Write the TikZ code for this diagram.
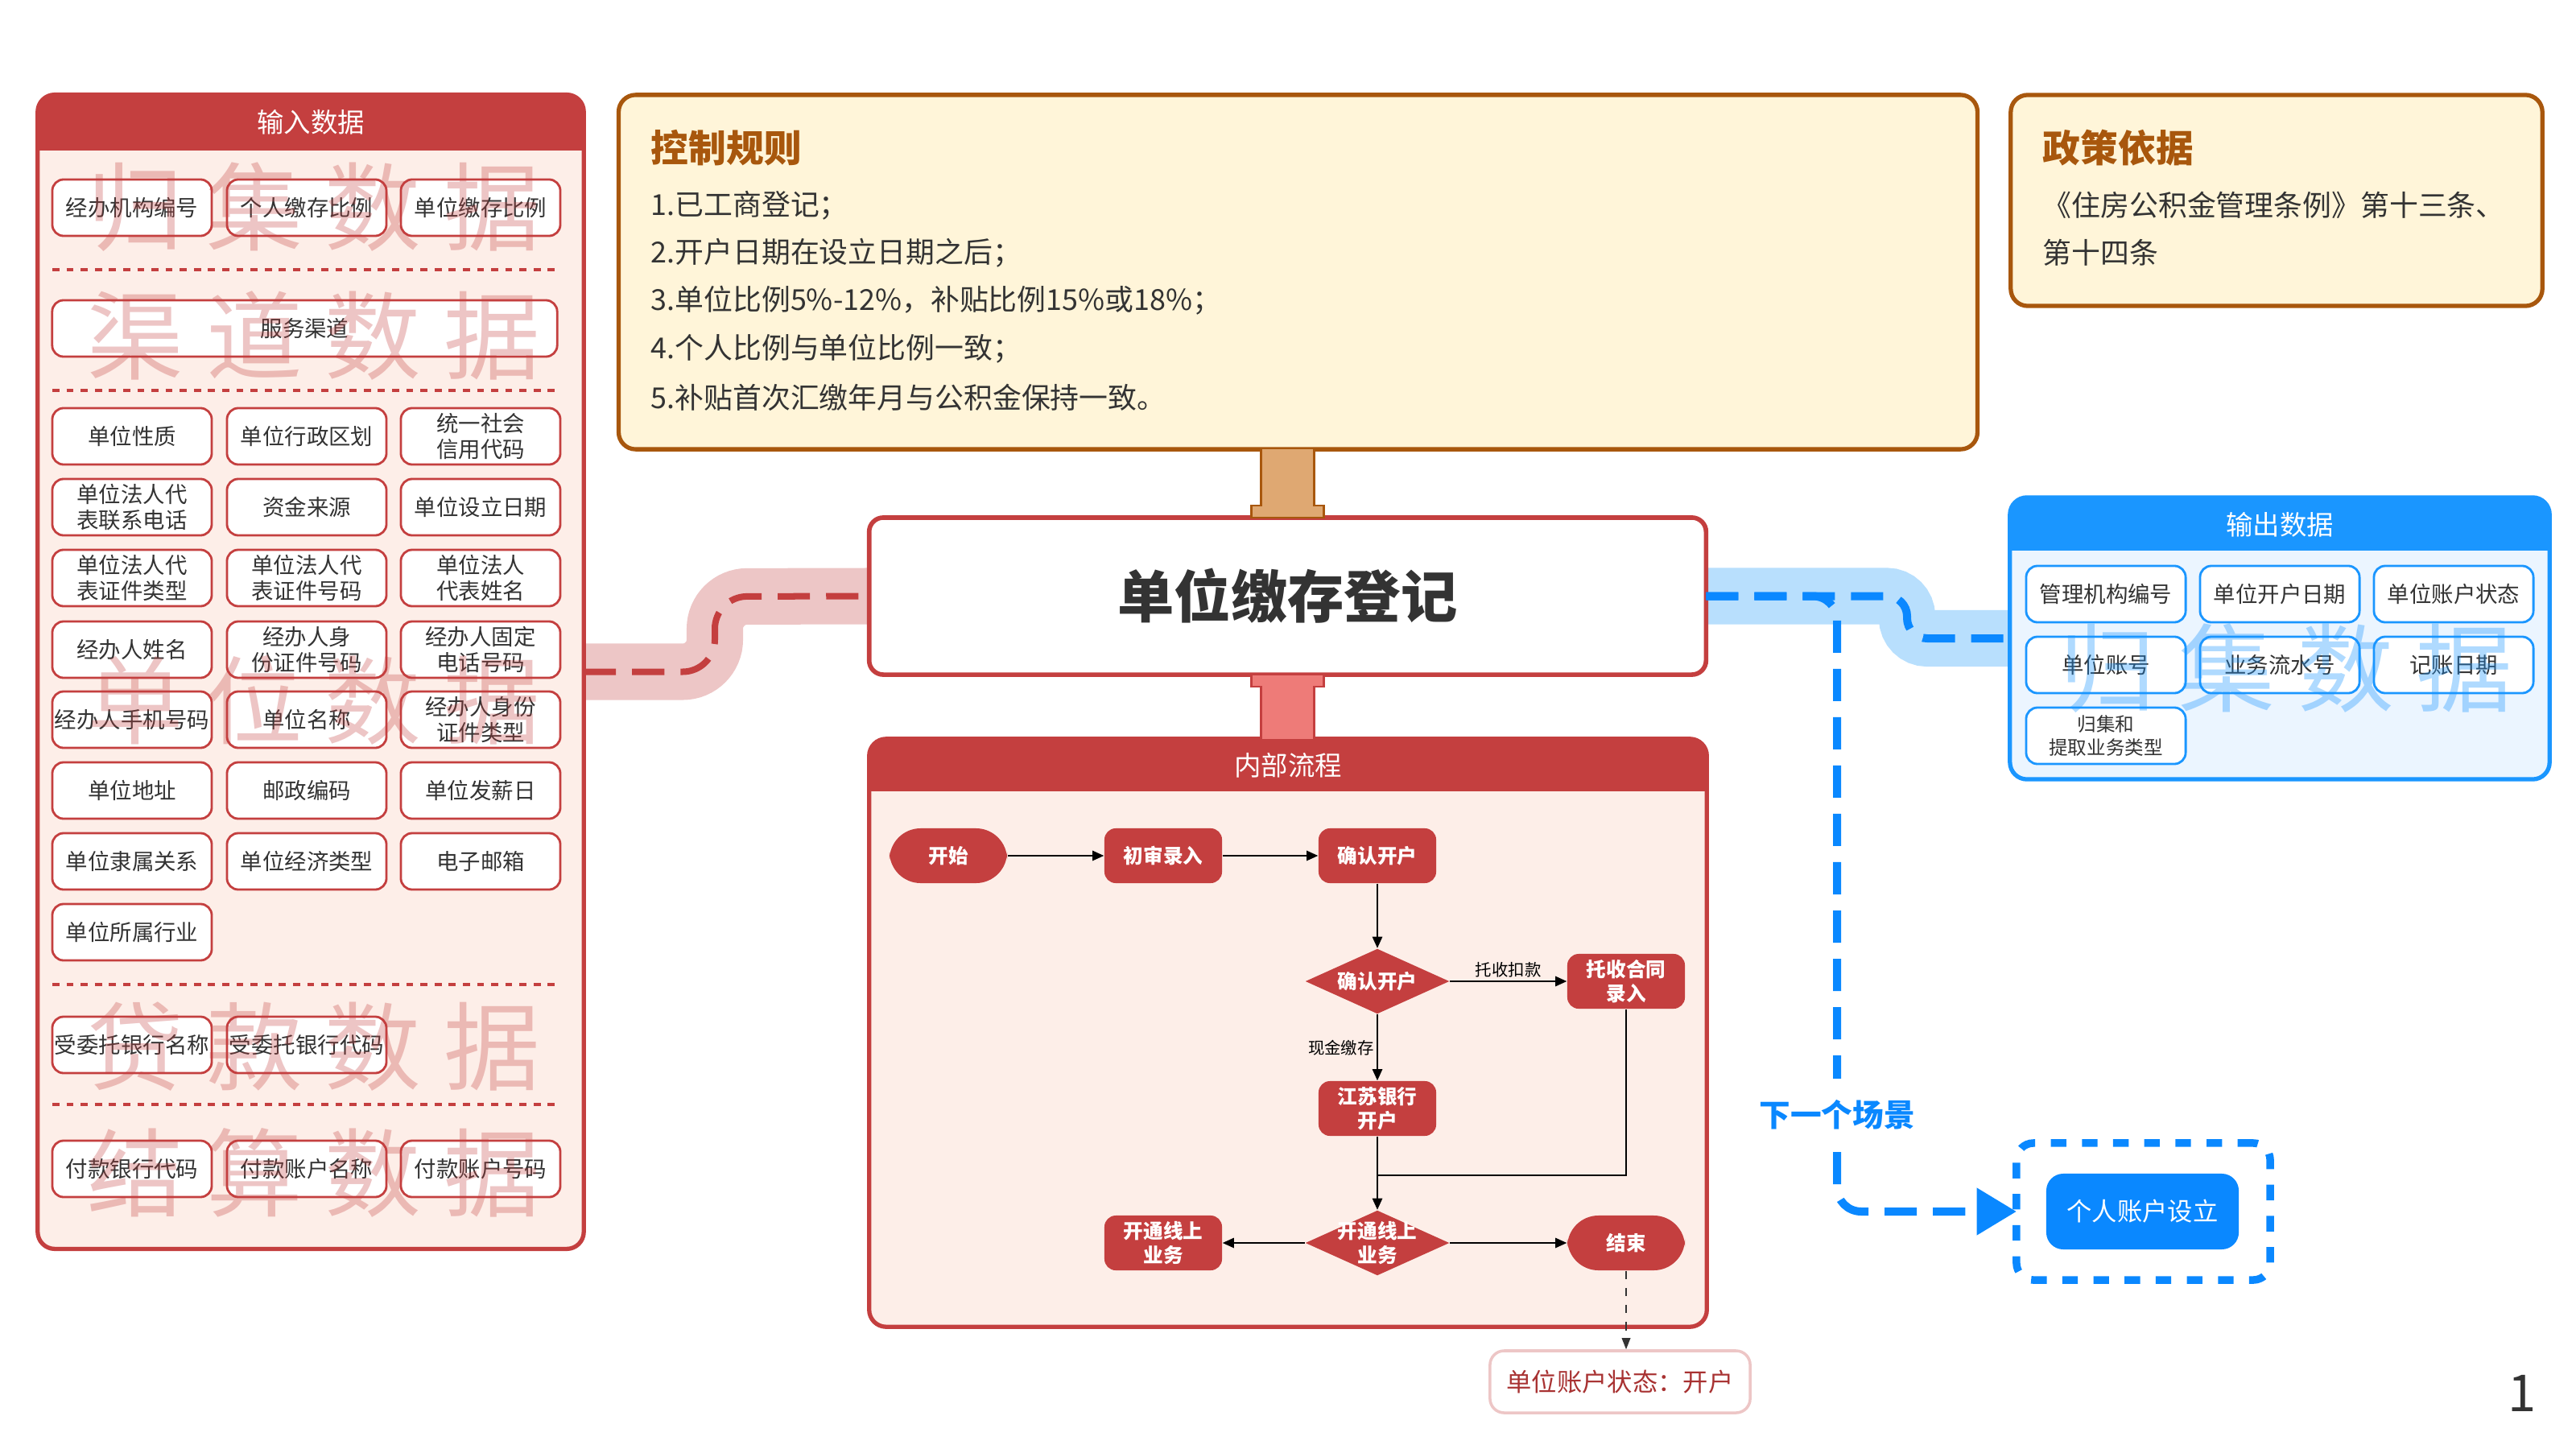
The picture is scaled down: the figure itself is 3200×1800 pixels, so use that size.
\documentclass[tikz,border=0pt]{standalone}
\usepackage{fontspec}
\setmainfont{Noto Sans CJK SC}
\usetikzlibrary{shapes.geometric,arrows.meta,calc,backgrounds}

\definecolor{inred}{HTML}{C43F3F}
\definecolor{inbg}{HTML}{FDEEE8}
\definecolor{bandred}{HTML}{EDC6C6}
\definecolor{stubred}{HTML}{EE7B78}
\definecolor{rulefill}{HTML}{FFF5D9}
\definecolor{rulebrown}{HTML}{A8570D}
\definecolor{stubbrown}{HTML}{DFA872}
\definecolor{outblue}{HTML}{1A96FF}
\definecolor{outbg}{HTML}{EBF5FF}
\definecolor{bandblue}{HTML}{B8DFFD}
\definecolor{lineblue}{HTML}{0A88FF}
\definecolor{txt}{HTML}{333333}
\definecolor{statered}{HTML}{A83232}

\newcommand{\wmspread}[4]{#1\hspace{8pt}#2\hspace{8pt}#3\hspace{8pt}#4}

\tikzset{
	panel/.style={line width=1.5pt, rounded corners=6pt, inner sep=0pt, outer sep=0pt},
	headtext/.style={text=white, font=\fontsize{9.5}{11}\selectfont},
	inbox/.style={draw=inred, line width=0.8pt, fill=white, rounded corners=4pt,
		minimum width=1.98cm, minimum height=0.70cm, inner sep=0pt, outer sep=0pt,
		align=center, text=txt, font=\fontsize{7.8}{9}\selectfont},
	outbox/.style={inbox, draw=outblue},
	wmtext/.style={opacity=0.3, font=\fontsize{34}{34}\selectfont},
	dotsep/.style={inred, line width=1.2pt, dash pattern=on 2.5pt off 2.5pt},
	ruletitle/.style={anchor=west, inner sep=0pt, text=rulebrown, font=\bfseries\fontsize{13.3}{15}\selectfont},
	ruletext/.style={anchor=west, inner sep=0pt, text=txt, font=\fontsize{10.2}{12}\selectfont},
	flowbox/.style={fill=inred, text=white, rounded corners=4pt, minimum width=1.46cm,
		minimum height=0.68cm, inner sep=0pt, align=center, font=\bfseries\fontsize{7}{8.5}\selectfont},
	flowend/.style={flowbox, rounded corners=11pt},
	flowdec/.style={diamond, fill=inred, minimum width=1.79cm, minimum height=0.81cm, inner sep=0pt},
	dectext/.style={text=white, align=center, font=\bfseries\fontsize{7}{8.5}\selectfont},
	flowline/.style={line width=0.5pt, -{Triangle[length=4pt,width=3.5pt]}},
	flowlabel/.style={inner sep=1pt, font=\fontsize{5.8}{7}\selectfont},
	bandline/.style={line width=0.7cm},
	dashline/.style={line width=0.1cm, dash pattern=on 0.4cm off 0.2cm},
}

\begin{document}
\begin{tikzpicture}[x=0.01cm,y=-0.01cm]
	\useasboundingbox (0,0) rectangle (3200,1800);

	% input
	\node[panel, draw=inred, fill=inbg, minimum width=6.78cm, minimum height=14.33cm] (input) at (386,834.5) {};
	\begin{scope}
		\clip[rounded corners=6pt] (input.north west) rectangle (input.south east);
		\fill[inred] (input.north west) rectangle ($(input.north east)+(0,69)$);
	\end{scope}
	\node[headtext] (inhead) at ($(input.north)+(0,34)$) {输入数据};

	\node[inbox] (orgno) at (164,258) {经办机构编号};
	\node[inbox] (perrate) at (381,258) {个人缴存比例};
	\node[inbox] (unitrate) at (597,258) {单位缴存比例};
	\draw[dotsep] (65,335) -- (692,335);
	\node[inbox, minimum width=6.27cm] (channel) at (378.5,408) {服务渠道};
	\draw[dotsep] (65,485) -- (692,485);
	\node[inbox] (unittype) at (164,542) {单位性质};
	\node[inbox] (unitarea) at (381,542) {单位行政区划};
	\node[inbox] (creditcode) at (597,542) {统一社会\\信用代码};
	\node[inbox] (legaltel) at (164,630) {单位法人代\\表联系电话};
	\node[inbox] (fundsrc) at (381,630) {资金来源};
	\node[inbox] (setupdate) at (597,630) {单位设立日期};
	\node[inbox] (legalidtype) at (164,718) {单位法人代\\表证件类型};
	\node[inbox] (legalidno) at (381,718) {单位法人代\\表证件号码};
	\node[inbox] (legalname) at (597,718) {单位法人\\代表姓名};
	\node[inbox] (agentname) at (164,807) {经办人姓名};
	\node[inbox] (agentidno) at (381,807) {经办人身\\份证件号码};
	\node[inbox] (agenttel) at (597,807) {经办人固定\\电话号码};
	\node[inbox] (agentmobile) at (164,894) {经办人手机号码};
	\node[inbox] (unitname) at (381,894) {单位名称};
	\node[inbox] (agentidtype) at (597,894) {经办人身份\\证件类型};
	\node[inbox] (unitaddr) at (164,982) {单位地址};
	\node[inbox] (postcode) at (381,982) {邮政编码};
	\node[inbox] (payday) at (597,982) {单位发薪日};
	\node[inbox] (affil) at (164,1070) {单位隶属关系};
	\node[inbox] (econtype) at (381,1070) {单位经济类型};
	\node[inbox] (email) at (597,1070) {电子邮箱};
	\node[inbox] (industry) at (164,1158) {单位所属行业};
	\draw[dotsep] (65,1223) -- (692,1223);
	\node[inbox] (bankname) at (164,1298) {受委托银行名称};
	\node[inbox] (bankcode) at (381,1298) {受委托银行代码};
	\draw[dotsep] (65,1372) -- (692,1372);
	\node[inbox] (paybank) at (164,1452) {付款银行代码};
	\node[inbox] (payname) at (381,1452) {付款账户名称};
	\node[inbox] (payacct) at (597,1452) {付款账户号码};

	\node[wmtext, text=inred] (wmcollect) at (390,257) {\wmspread{归}{集}{数}{据}};
	\node[wmtext, text=inred] (wmchannel) at (390,417) {\wmspread{渠}{道}{数}{据}};
	\node[wmtext, text=inred] (wmunit) at (390,870) {\wmspread{单}{位}{数}{据}};
	\node[wmtext, text=inred] (wmloan) at (390,1300) {\wmspread{贷}{款}{数}{据}};
	\node[wmtext, text=inred] (wmsettle) at (390,1457) {\wmspread{结}{算}{数}{据}};

	% rules and policy
	\node[panel, draw=rulebrown, fill=rulefill, minimum width=16.87cm, minimum height=4.40cm] (rules) at (1612.5,338) {};
	\node[ruletitle] (rtitle) at (808,184) {控制规则};
	\node[ruletext] (r1) at (808,255) {1.已工商登记；};
	\node[ruletext] (r2) at (808,314) {2.开户日期在设立日期之后；};
	\node[ruletext] (r3) at (808,373) {3.单位比例5\%-12\%，补贴比例15\%或18\%；};
	\node[ruletext] (r4) at (808,433) {4.个人比例与单位比例一致；};
	\node[ruletext] (r5) at (808,494) {5.补贴首次汇缴年月与公积金保持一致。};

	\node[panel, draw=rulebrown, fill=rulefill, minimum width=6.60cm, minimum height=2.62cm] (policy) at (2828,249) {};
	\node[ruletitle] (ptitle) at (2537,184) {政策依据};
	\node[ruletext] (p1) at (2537,255) {《住房公积金管理条例》第十三条、};
	\node[ruletext] (p2) at (2537,314) {第十四条};

	% main
	\node[draw=inred, line width=1.6pt, fill=white, rounded corners=5pt, outer sep=0pt,
		minimum width=10.39cm, minimum height=1.95cm, text=txt,
		font=\bfseries\fontsize{20}{22}\selectfont] (main) at (1599.5,740.5) {单位缴存登记};

	% output
	\node[panel, draw=outblue, fill=outbg, minimum width=6.70cm, minimum height=3.50cm] (output) at (2832,793) {};
	\begin{scope}
		\clip[rounded corners=6pt] (output.north west) rectangle (output.south east);
		\fill[outblue] (output.north west) rectangle ($(output.north east)+(0,66)$);
	\end{scope}
	\node[headtext] (outhead) at ($(output.north)+(0,34)$) {输出数据};
	\node[outbox] (mgrorg) at (2616,738) {管理机构编号};
	\node[outbox] (opendate) at (2832,738) {单位开户日期};
	\node[outbox] (acctstate) at (3048,738) {单位账户状态};
	\node[outbox] (acctno) at (2616,826) {单位账号};
	\node[outbox] (serialno) at (2832,826) {业务流水号};
	\node[outbox] (postdate) at (3048,826) {记账日期};
	\node[outbox, font=\fontsize{6.7}{8.5}\selectfont] (bustype) at (2616,914) {归集和\\提取业务类型};
	\node[wmtext, text=outblue, opacity=0.35] (wmout) at (2840,830) {\wmspread{归}{集}{数}{据}};

	% process
	\node[panel, draw=inred, fill=inbg, minimum width=10.40cm, minimum height=7.30cm] (proc) at (1600,1283) {};
	\begin{scope}
		\clip[rounded corners=6pt] (proc.north west) rectangle (proc.south east);
		\fill[inred] (proc.north west) rectangle ($(proc.north east)+(0,65)$);
	\end{scope}
	\node[headtext] (prochead) at ($(proc.north)+(0,33)$) {内部流程};

	\node[flowend] (fstart) at (1178,1063) {开始};
	\node[flowbox] (fcheck) at (1445,1063) {初审录入};
	\node[flowbox] (fconfirm) at (1711,1063) {确认开户};
	\node[flowdec, label={[dectext]center:确认开户}] (fdec1) at (1711,1219) {};
	\node[flowbox] (fcontract) at (2020,1219) {托收合同\\录入};
	\node[flowbox] (fbank) at (1711,1377) {江苏银行\\开户};
	\node[flowdec, label={[dectext]center:{开通线上\\业务}}] (fdec2) at (1711,1544) {};
	\node[flowbox] (fonline) at (1445,1544) {开通线上\\业务};
	\node[flowend] (fend) at (2020,1544) {结束};
	\coordinate (fjoin) at (1711,1460);

	\draw[flowline] (fstart) -- (fcheck);
	\draw[flowline] (fcheck) -- (fconfirm);
	\draw[flowline] (fconfirm) -- (fdec1);
	\draw[flowline] (fdec1) -- node[flowlabel, above] (lbcollect) {托收扣款} (fcontract);
	\draw[flowline] (fdec1) -- node[flowlabel, left] (lbcash) {现金缴存} (fbank);
	\draw[line width=0.5pt] (fcontract) |- (fjoin);
	\draw[flowline] (fbank) -- (fdec2);
	\draw[flowline] (fdec2) -- (fonline);
	\draw[flowline] (fdec2) -- (fend);

	\node[fill=white, draw=bandred, line width=1pt, rounded corners=5pt, minimum width=3.23cm,
		minimum height=0.77cm, text=statered, font=\fontsize{8.9}{10}\selectfont] (state) at (2012.5,1716.5) {单位账户状态：开户};
	\draw[txt, line width=0.5pt, dashed, -{Triangle[length=4pt,width=3pt]}] (fend.south) -- (fend.south |- state.north);

	% stubs
	\draw[draw=rulebrown, fill=stubbrown, line width=0.6pt] ($(main.north |- rules.south)+(-33,0)$) -- ($(main.north)+(-33,-15)$)
		-- ($(main.north)+(-45,-15)$) -- ($(main.north)+(-45,0)$) -- ($(main.north)+(45,0)$) -- ($(main.north)+(45,-15)$)
		-- ($(main.north)+(33,-15)$) -- ($(main.north |- rules.south)+(33,0)$);
	\draw[draw=inred, fill=stubred, line width=0.6pt] ($(main.south |- proc.north)+(-33,0)$) -- ($(main.south)+(-33,15)$)
		-- ($(main.south)+(-45,15)$) -- ($(main.south)+(-45,0)$) -- ($(main.south)+(45,0)$) -- ($(main.south)+(45,15)$)
		-- ($(main.south)+(33,15)$) -- ($(main.south |- proc.north)+(33,0)$);

	% bands
	\coordinate (lbend) at (888,741);
	\coordinate (rbend) at (2369,793);
	\coordinate (nbend) at (2282,1505);
	\begin{scope}[on background layer]
		\draw[bandline, bandred, rounded corners=0.4cm] (input.east) -| (lbend) -- (main.west);
		\draw[bandline, bandblue, rounded corners=0.25cm] (main.east) -| (rbend) -- (output.west);
	\end{scope}
	\draw[dashline, inred, line width=0.08cm, rounded corners=0.4cm] (input.east) -| (lbend) -- (main.west);
	\draw[dashline, lineblue, rounded corners=0.25cm] (main.east) -| (rbend) -- (output.west);

	% next scene
	\node[draw=lineblue, line width=2.7pt, dash pattern=on 5.5pt off 5.5pt, rounded corners=6pt, outer sep=0pt,
		minimum width=3.15cm, minimum height=1.70cm] (nextbox) at (2662.5,1505) {};
	\node[fill=lineblue, text=white, rounded corners=6pt, minimum width=2.39cm, minimum height=0.94cm,
		font=\fontsize{8.9}{10}\selectfont] (personal) at (2661.5,1505) {个人账户设立};
	\draw[dashline, lineblue, rounded corners=0.3cm, -{Triangle[length=14pt,width=16pt]}] (main.east) -| (nbend) -- (nextbox.west);
	\node[fill=white, inner xsep=2pt, inner ysep=0.27cm, text=lineblue, font=\bfseries\fontsize{11}{13}\selectfont] (nextlabel) at (2282,1385) {下一个场景};

	\node[text=txt, font=\fontsize{18}{20}\selectfont] (pageno) at (3133,1731) {1};
\end{tikzpicture}
\end{document}
